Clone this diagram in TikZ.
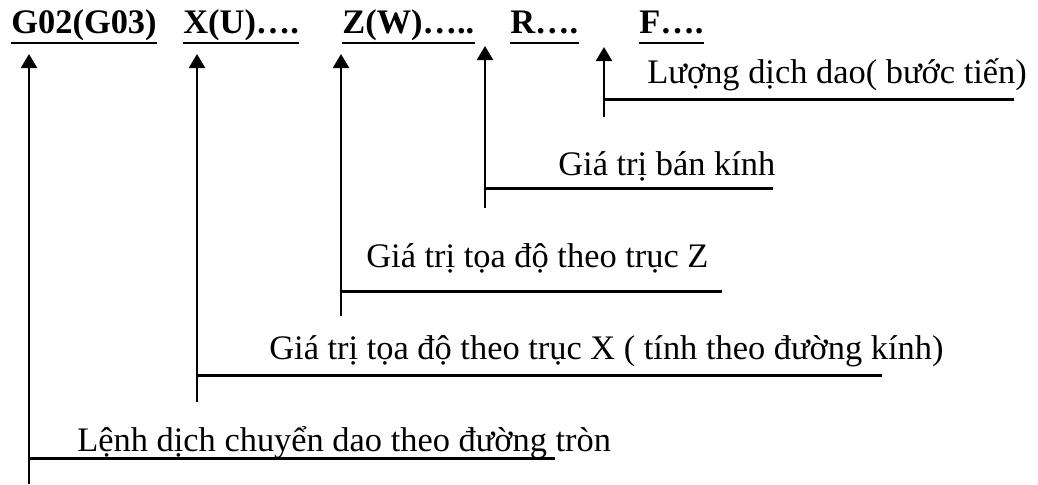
\documentclass[tikz,border=0pt]{standalone}
\usepackage{fontspec}
\setmainfont{Liberation Serif}
\usetikzlibrary{arrows.meta}
\begin{document}
\begin{tikzpicture}[x=0.5pt,y=-0.5pt,
  hdr/.style={anchor=base west,inner sep=0pt,font=\fontsize{17.2}{20}\selectfont\bfseries},
  lbl/.style={anchor=base west,inner sep=0pt,font=\fontsize{17.2}{20}\selectfont},
  uline/.style={line width=1.1pt},
  lead/.style={line width=1.2pt,-{Triangle[length=7pt,width=8pt]}},
  hline/.style={line width=1.5pt}]
\useasboundingbox (0,0) rectangle (1038,484);
% header
\node[hdr] (hg) at (11,33) {G02(G03)};
\node[hdr] (hx) at (183,33) {X(U)….};
\node[hdr] (hz) at (342,33) {Z(W)…..};
\node[hdr] (hr) at (510,33) {R….};
\node[hdr] (hf) at (639,33) {F….};
\foreach \n in {hg,hx,hz,hr,hf}
  \draw[uline] ([yshift=-5pt]\n.base west) -- ([yshift=-5pt]\n.base east);
% labels
\node[lbl] (lf) at (647,83) {Lượng dịch dao( bước tiến)};
\node[lbl] (lr) at (558,175) {Giá trị bán kính};
\node[lbl] (lz) at (366,267) {Giá trị tọa độ theo trục Z};
\node[lbl] (lx) at (269,359) {Giá trị tọa độ theo trục X ( tính theo đường kính)};
\node[lbl] (lg) at (77,451) {Lệnh dịch chuyển dao theo đường tròn};
% arrow tips and ends
\coordinate (gt) at (29,54);  \coordinate (gb) at (29,484);
\coordinate (xt) at (197,54); \coordinate (xb) at (197,402);
\coordinate (zt) at (341,54); \coordinate (zb) at (341,316);
\coordinate (rt) at (485,46); \coordinate (rb) at (485,208);
\coordinate (ft) at (604,47); \coordinate (fb) at (604,117);
% horizontal leader lines
\coordinate (gh) at (29,458);  \coordinate (ghe) at (555,458);
\coordinate (xh) at (197,375); \coordinate (xhe) at (882,375);
\coordinate (zh) at (341,291); \coordinate (zhe) at (722,291);
\coordinate (rh) at (485,188); \coordinate (rhe) at (773,188);
\coordinate (fh) at (604,99);  \coordinate (fhe) at (1014,99);
\foreach \a in {g,x,z,r,f}{
  \draw[lead] (\a b) -- (\a t);
  \draw[hline] (\a h) -- (\a he);
}
\end{tikzpicture}
\end{document}
